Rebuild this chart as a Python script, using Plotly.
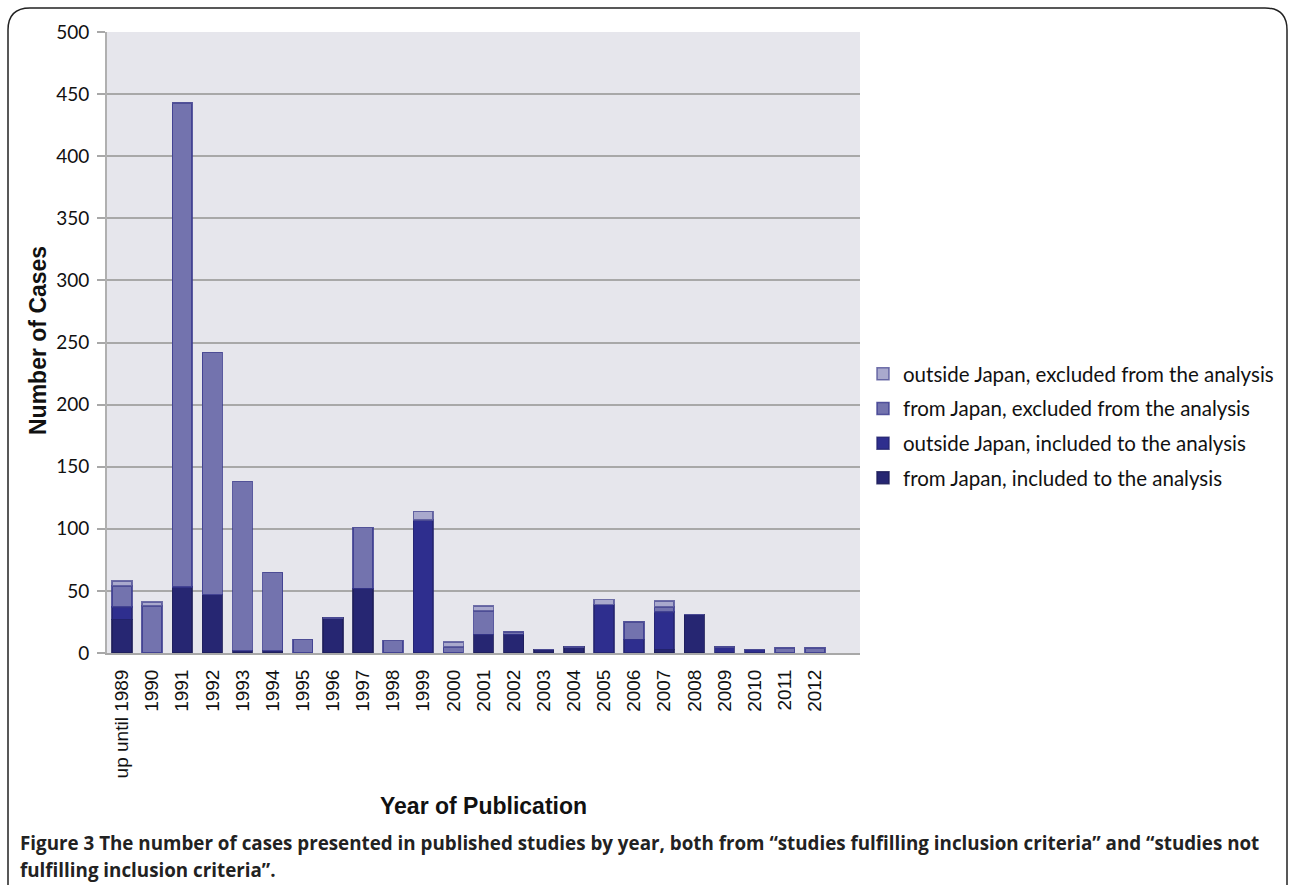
import plotly.graph_objects as go

# Publication years (the last slot is left empty, as on the original axis)
years = ["up until 1989", "1990", "1991", "1992", "1993", "1994", "1995", "1996",
         "1997", "1998", "1999", "2000", "2001", "2002", "2003", "2004", "2005",
         "2006", "2007", "2008", "2009", "2010", "2011", "2012"]

# Number of cases per group (stacked bottom to top)
japan_included = [27, 0, 53, 47, 2, 2, 0, 28, 52, 0, 0, 0, 15, 15, 3, 5, 0, 0, 3, 31, 0, 0, 0, 0]
outside_included = [10, 0, 0, 0, 0, 0, 0, 0, 0, 0, 107, 0, 0, 0, 0, 0, 39, 11, 30, 0, 5, 3, 0, 0]
japan_excluded = [17, 38, 390, 195, 136, 63, 11, 0, 49, 10, 0, 5, 19, 2, 0, 0, 0, 14, 4, 0, 0, 0, 4, 4]
outside_excluded = [4, 3, 0, 0, 0, 0, 0, 0, 0, 0, 7, 4, 4, 0, 0, 0, 4, 0, 5, 0, 0, 0, 0, 0]

y_ticks = [0, 50, 100, 150, 200, 250, 300, 350, 400, 450, 500]

W, H = 1290, 885


def px(x):
    return x / W


def py(y):
    return 1 - y / H


series = [
    ("from Japan, included to the analysis", japan_included, "#262672", "rgba(30,30,90,0.85)", 4),
    ("outside Japan, included to the analysis", outside_included, "#2e2e8e", "rgba(35,35,110,0.8)", 3),
    ("from Japan, excluded from the analysis", japan_excluded, "#7373ae", "rgba(55,55,140,0.8)", 2),
    ("outside Japan, excluded from the analysis", outside_excluded, "#a9a9cd", "rgba(80,80,150,0.8)", 1),
]

fig = go.Figure()
for i, (name, vals, col, edge, rank) in enumerate(series):
    fig.add_trace(go.Bar(
        x=years, y=vals, name=name, legendgroup=str(i), legendrank=rank,
        marker=dict(color=col, line=dict(color=edge, width=1.5)),
        width=0.66,
    ))

cats = years + [" "]

fig.update_layout(
    width=W, height=H,
    barmode="stack",
    paper_bgcolor="white",
    plot_bgcolor="#e6e6ec",
    margin=dict(l=0, r=0, t=0, b=0, autoexpand=False),
    showlegend=True,
    legend=dict(
        x=px(863), y=py(354), xanchor="left", yanchor="top",
        traceorder="grouped", tracegroupgap=5,
        font=dict(family="Lato, Open Sans, sans-serif", size=20.5, color="#111"),
        itemwidth=30, bgcolor="rgba(0,0,0,0)",
    ),
    xaxis=dict(
        domain=[px(107), px(860)],
        type="category", categoryorder="array", categoryarray=cats,
        range=[-0.5, 24.5],
        tickangle=-90,
        tickfont=dict(family="Liberation Sans, Arial, sans-serif", size=19, color="#111"),
        ticklabelstandoff=7,
        showline=True, linecolor="#a8a8a8", linewidth=2,
        ticks="", showgrid=False,
        anchor="y",
    ),
    yaxis=dict(
        domain=[py(653), py(32)],
        range=[0, 500],
        tickvals=y_ticks,
        tickfont=dict(family="Lato, Open Sans, sans-serif", size=19, color="#111"),
        ticklabelstandoff=4,
        showgrid=True, gridcolor="#a8a8a8", gridwidth=2,
        showline=True, linecolor="#b0b0b0", linewidth=2,
        ticks="outside", ticklen=8, tickcolor="#a8a8a8", tickwidth=2,
        zeroline=False,
    ),
)

# Axis titles
title_font = dict(family="Liberation Sans, Arial, sans-serif", size=23, color="#111")
fig.add_annotation(
    x=px(483), y=py(806), xref="paper", yref="paper", xanchor="center", yanchor="middle",
    showarrow=False, font=title_font, text="<b>Year of Publication</b>",
)
fig.add_annotation(
    x=px(38), y=py(341), xref="paper", yref="paper", xanchor="center", yanchor="middle",
    showarrow=False, font=title_font, text="<b>Number of Cases</b>", textangle=-90,
)

# Rounded frame around figure and caption
x0, x1, y0, y1, r = 8, 1287, 8, 920, 22
path = (f"M {px(x0)},{py(y1)} L {px(x0)},{py(y0 + r)} "
        f"Q {px(x0)},{py(y0)} {px(x0 + r)},{py(y0)} "
        f"L {px(x1 - r)},{py(y0)} Q {px(x1)},{py(y0)} {px(x1)},{py(y0 + r)} "
        f"L {px(x1)},{py(y1)}")
fig.add_shape(type="path", path=path, xref="paper", yref="paper",
              line=dict(color="#222", width=1.5))

caption_font = dict(family="Open Sans, Noto Sans, sans-serif", size=18.8, color="#222")
fig.add_annotation(
    x=px(18), y=py(843), xref="paper", yref="paper", xanchor="left", yanchor="middle",
    showarrow=False, align="left", font=caption_font,
    text="<b>Figure 3</b> <b>The number of cases presented in published studies by year, both from \u201cstudies fulfilling inclusion criteria\u201d and \u201cstudies not</b>",
)
fig.add_annotation(
    x=px(18), y=py(870), xref="paper", yref="paper", xanchor="left", yanchor="middle",
    showarrow=False, align="left", font=caption_font,
    text="<b>fulfilling inclusion criteria\u201d.</b>",
)

fig.write_html("out.html")
